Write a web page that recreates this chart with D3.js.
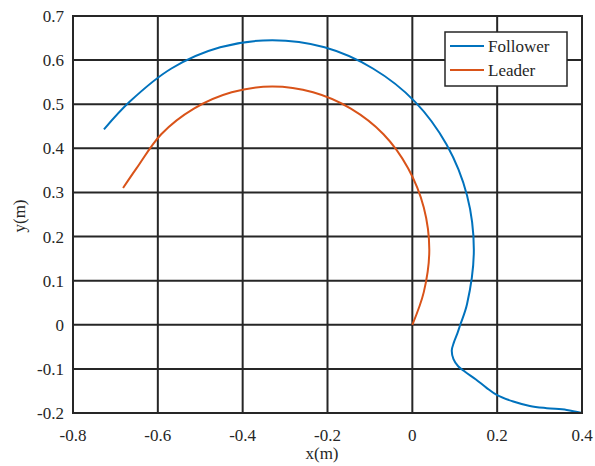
<!DOCTYPE html>
<html>
<head>
<meta charset="utf-8">
<script src="https://cdn.jsdelivr.net/npm/d3@7"></script>
<style>
  body { margin: 0; background: #fff; }
  text { font-family: "Liberation Serif", "Times New Roman", Times, serif; fill: #262626; }
</style>
</head>
<body>
<svg id="chart" width="595" height="466"></svg>
<script>
// values
var xTicks = [-0.8, -0.6, -0.4, -0.2, 0, 0.2, 0.4],
	yTicks = [-0.2, -0.1, 0, 0.1, 0.2, 0.3, 0.4, 0.5, 0.6, 0.7];

var followerX = [0.400, 0.364, 0.317, 0.277, 0.238, 0.199, 0.175, 0.150, 0.125, 0.108, 0.097, 0.093, 0.098, 0.106, 0.113,
	0.129, 0.145, 0.129, 0.081, 0.006, -0.093, -0.207, -0.330, -0.453, -0.568, -0.666, -0.727];
var followerY = [-0.200, -0.193, -0.189, -0.184, -0.174, -0.159, -0.143, -0.124, -0.107, -0.094, -0.078, -0.058, -0.040, -0.020, 0.000,
	0.047, 0.170, 0.293, 0.408, 0.506, 0.581, 0.629, 0.645, 0.629, 0.581, 0.506, 0.443];

var leaderX = [0.000, 0.027, 0.040, 0.027, -0.010, -0.068, -0.145, -0.234, -0.330, -0.426, -0.515, -0.592, -0.650, -0.682];
var leaderY = [0.000, 0.074, 0.170, 0.266, 0.355, 0.432, 0.490, 0.527, 0.540, 0.527, 0.490, 0.432, 0.355, 0.310];

var seriesNames = ["Follower", "Leader"],
	seriesColors = ["#0072BD", "#D95319"];

var svg = d3.select("#chart"),
	padL = 73, padR = 582, padT = 16, padB = 413,
	ink = "#262626",
	serif = "'Liberation Serif', 'Times New Roman', Times, serif";

var x = d3.scaleLinear().domain([-0.8, 0.4]).range([padL, padR]),
	y = d3.scaleLinear().domain([-0.2, 0.7]).range([padB, padT]);

function fmt(d) { return String(+d.toFixed(1)); }

// grid
svg.append("g").selectAll("line").data(xTicks).enter().append("line")
	.attr("x1", function(d) { return x(d); }).attr("x2", function(d) { return x(d); })
	.attr("y1", padT).attr("y2", padB)
	.attr("stroke", ink).attr("stroke-width", 2);
svg.append("g").selectAll("line").data(yTicks).enter().append("line")
	.attr("y1", function(d) { return y(d); }).attr("y2", function(d) { return y(d); })
	.attr("x1", padL).attr("x2", padR)
	.attr("stroke", ink).attr("stroke-width", 2);

// tick labels
svg.append("g").selectAll("text").data(xTicks).enter().append("text")
	.attr("x", function(d) { return x(d); })
	.attr("y", 441)
	.attr("text-anchor", "middle")
	.attr("font-family", serif)
	.attr("font-size", 17)
	.text(fmt);
svg.append("g").selectAll("text").data(yTicks).enter().append("text")
	.attr("x", 64)
	.attr("y", function(d) { return y(d) + 6; })
	.attr("text-anchor", "end")
	.attr("font-family", serif)
	.attr("font-size", 17)
	.text(fmt);

// axis labels
svg.append("text").attr("x", 322).attr("y", 459)
	.attr("text-anchor", "middle").attr("font-family", serif).attr("font-size", 17).text("x(m)");
svg.append("text").attr("transform", "translate(25,216) rotate(-90)")
	.attr("text-anchor", "middle").attr("font-family", serif).attr("font-size", 17).text("y(m)");

// lines
var line = d3.line()
	.x(function(d) { return x(d[0]); })
	.y(function(d) { return y(d[1]); })
	.curve(d3.curveCatmullRom);

var series = [d3.zip(followerX, followerY), d3.zip(leaderX, leaderY)];

svg.append("g").selectAll("path").data(series).enter().append("path")
	.attr("d", line)
	.attr("fill", "none")
	.attr("stroke", function(d, i) { return seriesColors[i]; })
	.attr("stroke-width", 2);

// box
svg.append("rect").attr("x", padL).attr("y", padT)
	.attr("width", padR - padL).attr("height", padB - padT)
	.attr("fill", "none").attr("stroke", ink).attr("stroke-width", 2);

// legend
var legend = svg.append("g");
legend.append("rect").attr("x", 445).attr("y", 32).attr("width", 122).attr("height", 54)
	.attr("fill", "#fff").attr("stroke", ink).attr("stroke-width", 1.5);
var item = legend.selectAll(".item").data(seriesNames).enter().append("g")
	.attr("class", "item")
	.attr("transform", function(d, i) { return "translate(0," + (46 + i * 24) + ")"; });
item.append("line").attr("x1", 450).attr("x2", 484)
	.attr("stroke", function(d, i) { return seriesColors[i]; }).attr("stroke-width", 2);
item.append("text").attr("x", 488).attr("y", 6).attr("font-family", serif).attr("font-size", 17)
	.text(function(d) { return d; });
</script>
</body>
</html>
